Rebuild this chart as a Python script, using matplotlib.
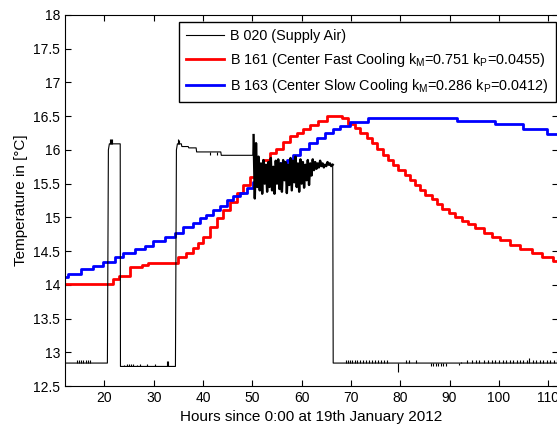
import matplotlib
matplotlib.use("Agg")
import matplotlib.pyplot as plt

plt.rcParams["font.family"] = ["Liberation Sans", "DejaVu Sans"]
plt.rcParams["mathtext.default"] = "regular"

# B 020 supply air: main path (hours, degC)
supply_h = [12.0, 20.6, 20.8, 21.0, 23.2, 23.25, 34.4, 34.6, 34.8, 35.6, 35.7, 37.0, 37.1,
            38.6, 38.7, 43.6, 43.7, 50.1]
supply_v = [12.84, 12.84, 16.0, 16.09, 16.09, 12.79, 12.79, 16.0, 16.09, 16.09, 16.05, 16.05, 16.03,
            16.03, 15.97, 15.97, 15.92, 15.92]
# noisy part while cooling is switched (read by eye)
noise_h = [50.25, 50.5, 50.75, 51.0, 51.25, 51.5, 51.75, 52.0, 52.25, 52.5, 52.75, 53.0, 53.25,
           53.5, 53.75, 54.0, 54.25, 54.5, 54.75, 55.0, 55.25, 55.5, 55.75, 56.0, 56.25, 56.5,
           56.75, 57.0, 57.25, 57.5, 57.75, 58.0, 58.25, 58.5, 58.75, 59.0, 59.25, 59.5, 59.75,
           60.0, 60.25, 60.5, 60.75, 61.0, 61.25, 61.5, 61.75, 62.0, 62.25, 62.5, 62.75, 63.0,
           63.25, 63.5, 63.75, 64.0, 64.25, 64.5, 64.75, 65.0, 65.25, 65.5, 65.75, 66.0, 66.3]
noise_v = [16.22, 15.28, 16.10, 15.45, 15.90, 15.40, 15.80, 15.35, 15.85, 15.50, 15.78, 15.38, 15.82,
           15.45, 15.88, 15.40, 15.75, 15.35, 15.84, 15.50, 15.86, 15.42, 15.80, 15.38, 15.85, 15.55,
           15.82, 15.36, 15.78, 15.48, 15.88, 15.40, 15.84, 15.52, 15.90, 15.45, 15.80, 15.38, 15.86,
           15.50, 15.82, 15.44, 15.78, 15.55, 15.85, 15.48, 15.80, 15.62, 15.86, 15.70, 15.82, 15.72,
           15.80, 15.74, 15.84, 15.76, 15.80, 15.74, 15.78, 15.76, 15.82, 15.78, 15.80, 15.76, 15.78]
tail_h = [66.4, 112.0]
tail_v = [12.84, 12.84]

# small sensor flicker spikes on the low level
spike_lo_h = [14.5, 14.9, 15.3, 15.7, 16.2, 16.6, 17.0, 69.0, 69.4, 69.9, 70.3, 70.8, 71.3, 71.9,
              72.4, 73.0, 73.6, 74.3, 74.8, 75.5, 76.1, 76.7, 77.3, 81.1, 81.8, 83.2, 92.4, 93.6,
              94.6, 95.3, 96.0, 97.0, 97.8, 98.6, 99.3, 100.1, 100.8, 101.5, 102.2, 102.9, 103.6,
              104.3, 105.0, 105.7, 106.2, 106.9, 107.6, 108.3, 109.0, 109.7, 110.4, 111.1, 111.7]
spike_lo_top = [12.88, 12.88, 12.88, 12.88, 12.88, 12.88, 12.88, 12.88, 12.88, 12.88, 12.88, 12.88,
                12.88, 12.88, 12.88, 12.88, 12.88, 12.88, 12.88, 12.88, 12.88, 12.88, 12.88, 12.88,
                12.88, 12.88, 12.86, 12.88, 12.88, 12.88, 12.88, 12.88, 12.88, 12.88, 12.88, 12.88,
                12.88, 12.88, 12.88, 12.88, 12.88, 12.88, 12.88, 12.88, 12.91, 12.88, 12.88, 12.88,
                12.88, 12.88, 12.88, 12.88, 12.90]
spike_mid_h = [24.0, 24.5, 25.0, 25.4, 25.8, 26.6, 27.3, 28.6, 30.3, 32.6, 32.9]
spike_mid_top = [12.81, 12.83, 12.83, 12.83, 12.83, 12.81, 12.83, 12.82, 12.82, 12.87, 12.87]
spike_dn_h = [79.5, 86.2, 86.7, 87.2, 87.7, 88.2, 88.7, 89.2, 92.0]
spike_dn_bot = [12.71, 12.80, 12.80, 12.80, 12.80, 12.80, 12.80, 12.80, 12.81]
spike_hi_h = [21.1, 21.3, 21.5, 34.9, 35.1, 41.5, 42.9]
spike_hi_v0 = [16.09, 16.09, 16.09, 16.09, 16.09, 15.97, 15.97]
spike_hi_v1 = [16.16, 16.16, 16.16, 16.16, 16.14, 15.93, 15.93]

# B 161 center fast cooling (step start hour, value)
fast_h = [12.0, 21.8, 23.0, 25.2, 27.6, 28.9, 35.0, 36.5, 37.9, 39.0, 40.0, 41.4, 42.8, 44.1, 45.5,
          46.8, 48.2, 49.5, 50.9, 52.2, 53.6, 54.9, 56.3, 57.6, 59.0, 60.3, 61.7, 63.4, 65.2, 68.1,
          69.5, 70.8, 71.8, 73.2, 74.2, 75.2, 76.6, 77.6, 78.6, 79.6, 81.0, 82.0, 83.0, 84.0, 85.0,
          86.4, 87.4, 88.4, 89.8, 91.1, 92.5, 93.8, 95.2, 96.9, 98.6, 100.2, 102.3, 104.3, 106.7,
          108.7, 111.0, 112.0]
fast_v = [14.01, 14.08, 14.13, 14.26, 14.29, 14.33, 14.41, 14.47, 14.54, 14.62, 14.71, 14.86, 14.99,
          15.11, 15.23, 15.36, 15.48, 15.60, 15.73, 15.85, 15.95, 16.02, 16.12, 16.20, 16.25, 16.31,
          16.37, 16.43, 16.51, 16.47, 16.39, 16.32, 16.25, 16.17, 16.10, 16.02, 15.92, 15.85, 15.78,
          15.70, 15.63, 15.55, 15.48, 15.41, 15.33, 15.27, 15.20, 15.13, 15.07, 15.01, 14.95, 14.90,
          14.84, 14.77, 14.71, 14.66, 14.59, 14.53, 14.47, 14.41, 14.36, 14.36]

# B 163 center slow cooling
slow_h = [12.0, 12.7, 15.2, 17.7, 19.8, 22.1, 23.8, 26.2, 28.2, 29.9, 32.3, 34.3, 36.0, 38.0, 39.4,
          40.7, 42.1, 43.4, 44.8, 46.1, 47.5, 48.9, 50.2, 51.6, 52.9, 54.3, 55.6, 57.0, 58.3, 59.7,
          61.4, 63.1, 64.7, 66.4, 67.8, 69.8, 73.5, 91.5, 99.2, 105.0, 109.7, 112.0]
slow_v = [14.11, 14.16, 14.23, 14.28, 14.34, 14.41, 14.47, 14.53, 14.58, 14.65, 14.71, 14.77, 14.85,
          14.91, 14.99, 15.03, 15.11, 15.17, 15.26, 15.31, 15.36, 15.43, 15.53, 15.60, 15.66, 15.73,
          15.80, 15.85, 15.92, 16.02, 16.10, 16.17, 16.25, 16.31, 16.36, 16.42, 16.47, 16.43, 16.38,
          16.31, 16.24, 16.24]

x_ticks = [20, 30, 40, 50, 60, 70, 80, 90, 100, 110]
y_ticks = [12.5, 13, 13.5, 14, 14.5, 15, 15.5, 16, 16.5, 17, 17.5, 18]

fig = plt.figure(figsize=(5.57, 4.25), dpi=100)
ax = fig.add_axes([65 / 557, 39 / 425, 493 / 557, 371 / 425])

ax.plot(supply_h + noise_h[:1], supply_v + noise_v[:1], color="black", lw=0.8, zorder=3,
        label="B 020 (Supply Air)")
ax.plot(noise_h, noise_v, color="black", lw=1.7, zorder=3)
ax.plot(noise_h[-1:] + tail_h, noise_v[-1:] + tail_v, color="black", lw=0.8, zorder=3)
ax.plot(fast_h, fast_v, color="red", lw=2, drawstyle="steps-post",
        label="B 161 (Center Fast Cooling k$_{M}$=0.751 k$_{P}$=0.0455)")
ax.plot(slow_h, slow_v, color="blue", lw=2, drawstyle="steps-post",
        label="B 163 (Center Slow Cooling k$_{M}$=0.286 k$_{P}$=0.0412)")

ax.vlines(spike_lo_h, 12.84, spike_lo_top, color="black", lw=0.8, zorder=3)
ax.vlines(spike_mid_h, 12.79, spike_mid_top, color="black", lw=0.8, zorder=3)
ax.vlines(spike_dn_h, spike_dn_bot, 12.84, color="black", lw=0.8, zorder=3)
ax.vlines(spike_hi_h, spike_hi_v0, spike_hi_v1, color="black", lw=0.8, zorder=3)

ax.set_xlim(12, 112)
ax.set_ylim(12.5, 18)
ax.set_xticks(x_ticks)
ax.set_yticks(y_ticks)
ax.set_yticklabels([f"{t:g}" for t in y_ticks])
ax.tick_params(direction="in", top=True, right=True, labelsize=10, length=4, width=0.8)
for s in ax.spines.values():
    s.set_linewidth(0.8)

ax.set_xlabel("Hours since 0:00 at 19th January 2012", fontsize=11, labelpad=4)
ax.set_ylabel("Temperature in [°C]", fontsize=11, labelpad=4)

leg = ax.legend(loc="upper right", bbox_to_anchor=(556 / 557, 1 - 22 / 425),
                bbox_transform=fig.transFigure, fontsize=10.4, handlelength=2.6,
                handletextpad=0.45, borderaxespad=0, fancybox=False, framealpha=1,
                borderpad=0.5, labelspacing=0.55)
leg.get_frame().set_edgecolor("black")
leg.get_frame().set_linewidth(1.0)

fig.savefig("out.png", dpi=100)
